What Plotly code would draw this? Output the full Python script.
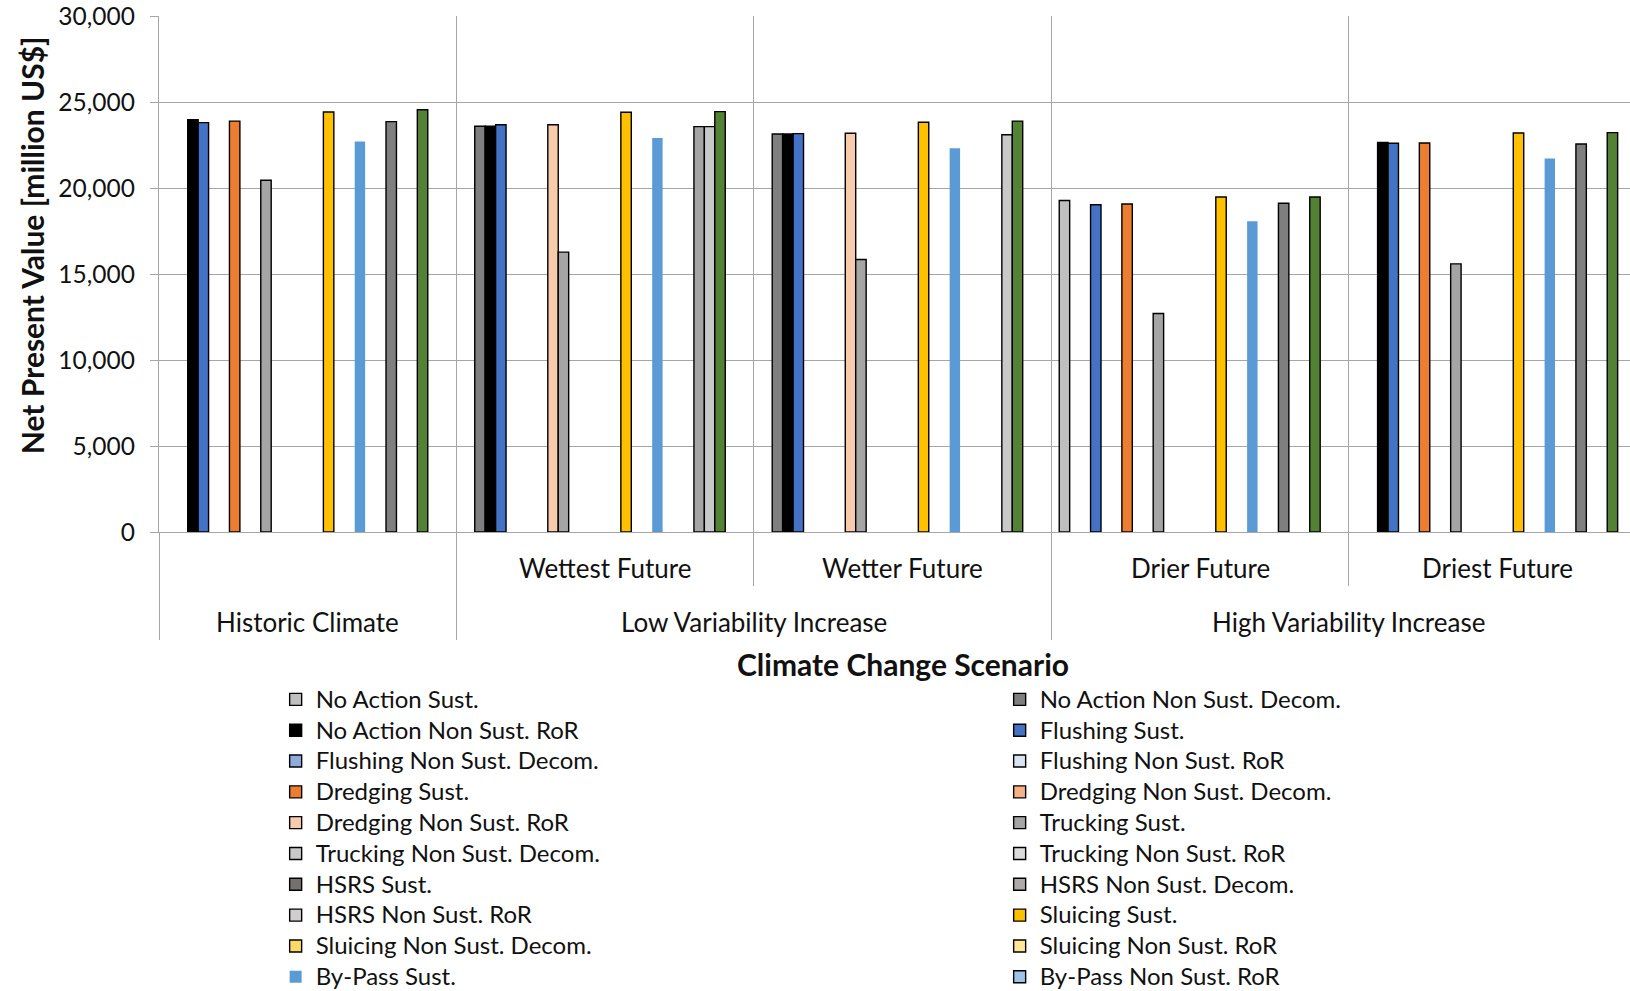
import plotly.graph_objects as go

# Climate scenarios (inner level) and their variability groups (outer level)
scenarios = ["Historic Climate", "Wettest Future", "Wetter Future", "Drier Future", "Driest Future"]
scenario_labels = ["", "Wettest Future", "Wetter Future", "Drier Future", "Driest Future"]
group_labels = ["Historic Climate", "Low Variability Increase", "High Variability Increase"]
group_centers = [0, 1.5, 3.5]

# Net present value [million US$] per strategy, one value per scenario (None = not evaluated)
no_action_sust = [None, None, None, 19270, None]
no_action_ns_decom = [None, 23590, 23140, None, None]
no_action_ns_ror = [23970, 23590, 23140, None, 22650]
flushing_sust = [23800, 23680, 23160, 19030, 22600]
flushing_ns_decom = [None, None, None, None, None]
flushing_ns_ror = [None, None, None, None, None]
dredging_sust = [23890, None, None, 19070, 22620]
dredging_ns_decom = [None, None, None, None, None]
dredging_ns_ror = [None, 23680, 23180, None, None]
trucking_sust = [20450, 16270, 15840, 12700, 15590]
trucking_ns_decom = [None, None, None, None, None]
trucking_ns_ror = [None, None, None, None, None]
hsrs_sust = [None, None, None, None, None]
hsrs_ns_decom = [None, None, None, None, None]
hsrs_ns_ror = [None, None, None, None, None]
sluicing_sust = [24420, 24400, 23820, 19480, 23200]
sluicing_ns_decom = [None, None, None, None, None]
sluicing_ns_ror = [None, None, None, None, None]
bypass_sust = [22700, 22910, 22310, 18070, 21710]
bypass_ns_ror = [None, None, None, None, None]
strategy_21 = [None, None, None, None, None]
strategy_22 = [23860, None, None, 19110, 22560]
strategy_23 = [None, 23570, None, None, None]
strategy_24 = [None, 23570, 23100, None, None]
strategy_25 = [24550, 24440, 23890, 19480, 23220]
strategy_26 = [None, None, None, None, None]
strategy_27 = [None, None, None, None, None]

series_names = [
    "No Action Sust.", "No Action Non Sust. Decom.", "No Action Non Sust. RoR",
    "Flushing Sust.", "Flushing Non Sust. Decom.", "Flushing Non Sust. RoR",
    "Dredging Sust.", "Dredging Non Sust. Decom.", "Dredging Non Sust. RoR",
    "Trucking Sust.", "Trucking Non Sust. Decom.", "Trucking Non Sust. RoR",
    "HSRS Sust.", "HSRS Non Sust. Decom.", "HSRS Non Sust. RoR",
    "Sluicing Sust.", "Sluicing Non Sust. Decom.", "Sluicing Non Sust. RoR",
    "By-Pass Sust.", "By-Pass Non Sust. RoR",
    "Strategy 21", "Strategy 22", "Strategy 23", "Strategy 24",
    "Strategy 25", "Strategy 26", "Strategy 27",
]
series_values = [
    no_action_sust, no_action_ns_decom, no_action_ns_ror,
    flushing_sust, flushing_ns_decom, flushing_ns_ror,
    dredging_sust, dredging_ns_decom, dredging_ns_ror,
    trucking_sust, trucking_ns_decom, trucking_ns_ror,
    hsrs_sust, hsrs_ns_decom, hsrs_ns_ror,
    sluicing_sust, sluicing_ns_decom, sluicing_ns_ror,
    bypass_sust, bypass_ns_ror,
    strategy_21, strategy_22, strategy_23, strategy_24,
    strategy_25, strategy_26, strategy_27,
]
series_colors = [
    "#BFBFBF", "#7F7F7F", "#000000",
    "#4472C4", "#8FAADC", "#DAE3F3",
    "#ED7D31", "#F4B183", "#F8CBAD",
    "#A5A5A5", "#C9C9C9", "#DBDBDB",
    "#767171", "#AEAAAA", "#D0CECE",
    "#FFC000", "#FFD966", "#FFE699",
    "#5B9BD5", "#9DC3E6",
    "#BDD7EE", "#7F7F7F", "#A5A5A5", "#C9C9C9",
    "#548235", "#A9D18E", "#C5E0B4",
]
legend_count = 20

FONT = "Lato"
GRID = "#A6A6A6"
TEXT = "#111111"

fig = go.Figure()
for i, (name, vals, col) in enumerate(zip(series_names, series_values, series_colors)):
    fig.add_trace(go.Bar(
        x=scenarios, y=vals,
        name=f'<span style="font-size:24px">{name}</span>',
        marker=dict(color=col,
                    line=dict(color="#000000", width=0 if name == "By-Pass Sust." else 1.4)),
        showlegend=i < legend_count,
    ))

annotations = []
for xc, lab in enumerate(scenario_labels):
    if lab:
        annotations.append(dict(x=xc, y=-0.069, xref="x2", yref="paper", text=lab,
                                showarrow=False, xanchor="center", yanchor="middle",
                                font=dict(family=FONT, size=26, color=TEXT)))
for xc, lab in zip(group_centers, group_labels):
    annotations.append(dict(x=xc, y=-0.174, xref="x2", yref="paper", text=lab,
                            showarrow=False, xanchor="center", yanchor="middle",
                            font=dict(family=FONT, size=26, color=TEXT)))
annotations.append(dict(x=2, y=-0.256, xref="x2", yref="paper",
                        text="<b>Climate Change Scenario</b>", showarrow=False,
                        xanchor="center", yanchor="middle",
                        font=dict(family=FONT, size=30, color=TEXT)))
annotations.append(dict(x=-0.0863, y=0.556, xref="paper", yref="paper",
                        text="<b>Net Present Value [million US$]</b>", showarrow=False,
                        textangle=-90, xanchor="center", yanchor="middle",
                        font=dict(family=FONT, size=30, color=TEXT)))

x_range = [-0.5, 4.445]

fig.update_layout(
    width=1630, height=991,
    margin=dict(l=159, r=0, t=16, b=459, autoexpand=False),
    paper_bgcolor="white", plot_bgcolor="white",
    barmode="group", bargap=1.5 / 28.5, bargroupgap=0,
    font=dict(family=FONT, size=24, color=TEXT),
    xaxis=dict(type="category", categoryorder="array", categoryarray=scenarios,
               range=x_range, tickson="boundaries", showgrid=True,
               gridcolor=GRID, gridwidth=1.3, ticks="outside", ticklen=53,
               tickcolor=GRID, tickwidth=1.3, showticklabels=False,
               showline=True, linecolor=GRID, linewidth=1.3),
    xaxis2=dict(type="linear", overlaying="x", anchor="y", side="bottom",
                range=x_range, tickmode="array", tickvals=[-0.5, 0.5, 2.5],
                ticks="outside", ticklen=107, tickcolor=GRID, tickwidth=1.3,
                showticklabels=False, showgrid=False, zeroline=False),
    yaxis=dict(range=[0, 30000], dtick=5000, tickformat=",", showgrid=True,
               gridcolor=GRID, gridwidth=1.3, ticks="outside", ticklen=8,
               tickcolor=GRID, tickwidth=1.3, ticklabelstandoff=10,
               tickfont=dict(family=FONT, size=24.5, color=TEXT),
               showline=True, linecolor=GRID, linewidth=1.3, zeroline=False),
    legend=dict(orientation="h", x=0.0793, y=-0.2848, xanchor="left", yanchor="top",
                entrywidth=679, entrywidthmode="pixels", traceorder="normal",
                font=dict(family=FONT, size=21.4, color=TEXT),
                bgcolor="rgba(0,0,0,0)"),
    annotations=annotations,
)

fig.write_html("out.html")
